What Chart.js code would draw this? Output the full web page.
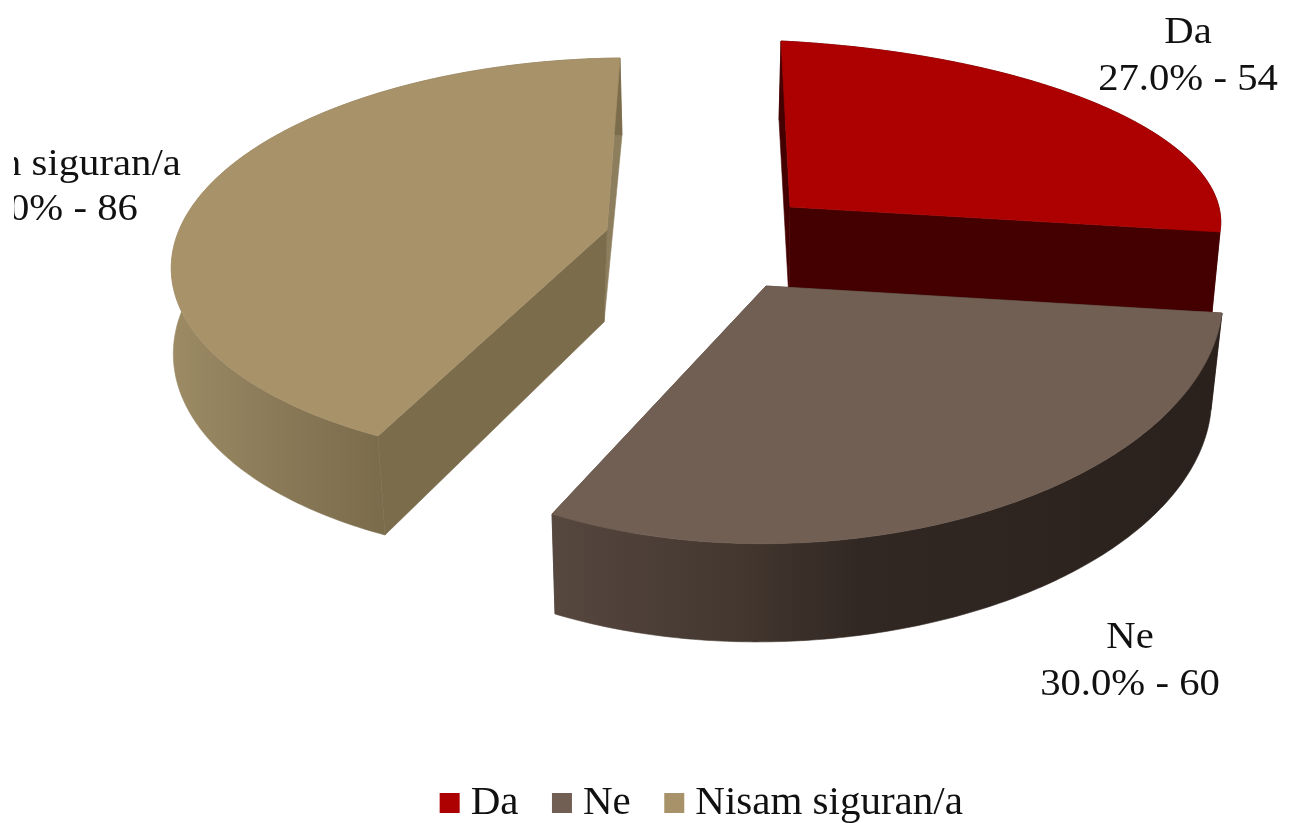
<!DOCTYPE html>
<html><head><meta charset="utf-8">
<style>html,body{margin:0;padding:0;background:#fff}canvas{display:block;filter:blur(.45px)}</style>
<script src="https://cdn.jsdelivr.net/npm/chart.js@4/dist/chart.umd.min.js"></script>
</head><body><canvas id="c" width="1290" height="823"></canvas>
<script>
const categories = ['Da', 'Ne', 'Nisam siguran/a'];
const values = [54, 60, 86];
const sliceColors = ['#ad0000', '#715f54', '#a7926a'];

// Screen layout of the tilted slices: [centre, start of arc, end of arc, middle of arc]
const topFaces = [
  [[790,207],[781,41],[1220,232],[1107,108]],
  [[766,286],[1222,313],[552,514],[985,512]],
  [[607,230],[378,436],[620,58],[205,190]]
];
const bottomFaces = [
  [[789,300],[779,120],[1212,312],[1100,190]],
  [[766,386],[1211,410],[555,614],[985,608]],
  [[604,322],[385,535],[622,135],[205,272]]
];
const startWall = ['#440000', '#3a2f29', '#7b6c4c'];
const endWall = ['#440000', '#54453d', '#8d7e5e'];
const outerWall = [
  [[0,'#440000'],[1,'#440000']],
  [[0,'#56473f'],[0.28,'#43372f'],[0.46,'#322823'],[1,'#2a211c']],
  [[0,'#9c8b64'],[0.5,'#8a7a58'],[1,'#7b6c4c']]
];
const drawOrder = [0, 2, 1];
const labelSpots = [[1188,43,90],[1130,648,695],[48,175,220]];
const SERIF = '"Liberation Serif","Times New Roman",serif';

function solve(A, b) {
  const n = b.length, M = A.map((r, i) => [...r, b[i]]);
  for (let i = 0; i < n; i++) {
    let p = i;
    for (let k = i + 1; k < n; k++) if (Math.abs(M[k][i]) > Math.abs(M[p][i])) p = k;
    [M[i], M[p]] = [M[p], M[i]];
    for (let k = 0; k < n; k++) {
      if (k === i) continue;
      const f = M[k][i] / M[i][i];
      for (let j = i; j <= n; j++) M[k][j] -= f * M[i][j];
    }
  }
  return M.map((r, i) => r[n] / r[i]);
}
function homography(src, dst) {
  const A = [], b = [];
  src.forEach((s, i) => {
    const [x, y] = s, [u, v] = dst[i];
    A.push([x, y, 1, 0, 0, 0, -u * x, -u * y]); b.push(u);
    A.push([0, 0, 0, x, y, 1, -v * x, -v * y]); b.push(v);
  });
  const h = solve(A, b);
  return (x, y) => {
    const w = h[6] * x + h[7] * y + 1;
    return [(h[0] * x + h[1] * y + h[2]) / w, (h[3] * x + h[4] * y + h[5]) / w];
  };
}
function poly(ctx, pts, fill) {
  ctx.beginPath();
  pts.forEach((p, i) => i ? ctx.lineTo(p[0], p[1]) : ctx.moveTo(p[0], p[1]));
  ctx.closePath();
  ctx.fillStyle = fill;
  ctx.strokeStyle = fill;
  ctx.lineWidth = 0.6;
  ctx.fill();
  ctx.stroke();
}

const tiltedPie = {
  id: 'tiltedPie',
  afterLayout(chart) {
    const l = chart.legend;
    l.top = 739.5;
    l.left += 61; l.right += 61;
  },
  beforeDatasetDraw(chart, args) {
    const ctx = chart.ctx, arcs = args.meta.data;
    drawOrder.forEach(i => {
      const a0 = arcs[i].startAngle + Math.PI / 2, a1 = arcs[i].endAngle + Math.PI / 2, am = (a0 + a1) / 2;
      const u = a => [Math.sin(a), Math.cos(a)];
      const src = [[0, 0], u(a0), u(a1), u(am)];
      const T = homography(src, topFaces[i]), B = homography(src, bottomFaces[i]);
      const arc = H => { const o = []; for (let k = 0; k <= 160; k++) { const a = a0 + (a1 - a0) * k / 160; o.push(H(Math.sin(a), Math.cos(a))); } return o; };
      const tArc = arc(T), bArc = arc(B), tc = T(0, 0), bc = B(0, 0);
      poly(ctx, [tc, tArc[160], bArc[160], bc], endWall[i]);
      poly(ctx, [tc, tArc[0], bArc[0], bc], startWall[i]);
      const xs = tArc.concat(bArc).map(p => p[0]);
      const x0 = Math.min(...xs);
      const x1 = i === 2 ? tArc[0][0] : Math.max(...xs);
      const g = ctx.createLinearGradient(x0, 0, x1, 0);
      outerWall[i].forEach(s => g.addColorStop(s[0], s[1]));
      poly(ctx, tArc.concat(bArc.slice().reverse()), g);
      poly(ctx, [tc, ...tArc], sliceColors[i]);
    });
    const total = values.reduce((s, v) => s + v, 0);
    ctx.save();
    ctx.beginPath(); ctx.rect(14, 0, 1276, 823); ctx.clip();
    ctx.fillStyle = '#111';
    ctx.font = '37px ' + SERIF;
    ctx.textAlign = 'center';
    ctx.textBaseline = 'alphabetic';
    categories.forEach((name, i) => {
      const [x, y1, y2] = labelSpots[i];
      const pct = (values[i] / total * 100).toFixed(1);
      ctx.save();
      ctx.translate(x, 0); ctx.scale(1.1, 1);
      ctx.fillText(name, 0, y1);
      ctx.fillText(pct + '% - ' + values[i], 0, y2);
      ctx.restore();
    });
    ctx.restore();
    return false;
  }
};

new Chart(document.getElementById('c'), {
  type: 'pie',
  data: { labels: categories, datasets: [{ data: values, backgroundColor: sliceColors, borderWidth: 0 }] },
  options: {
    responsive: false,
    animation: false,
    plugins: {
      tooltip: { enabled: false },
      legend: {
        position: 'bottom',
        labels: { usePointStyle: true, pointStyle: 'rect', boxWidth: 1, boxHeight: 20, padding: 43, color: '#111',
          font: { family: SERIF, size: 41 } }
      }
    }
  },
  plugins: [tiltedPie]
});
</script></body></html>
